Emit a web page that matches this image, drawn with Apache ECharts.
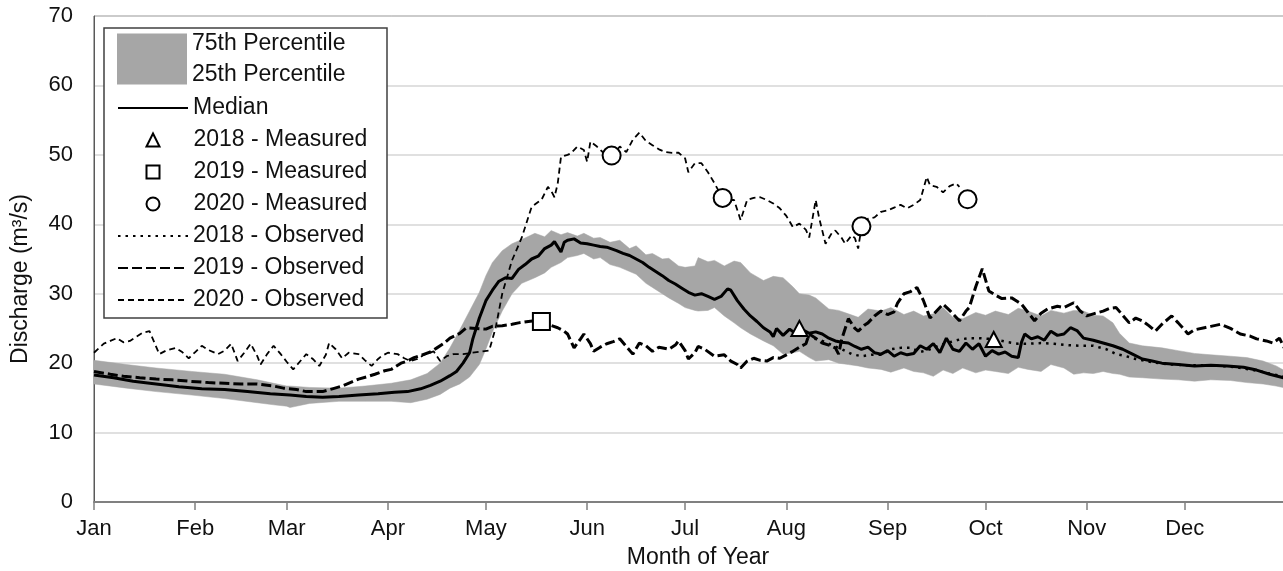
<!DOCTYPE html>
<html>
<head>
<meta charset="utf-8">
<script src="https://cdn.jsdelivr.net/npm/echarts@6/dist/echarts.min.js"></script>
<style>
html,body{margin:0;padding:0;background:#fff;}
#chart{width:1283px;height:571px;}
</style>
</head>
<body>
<div id="chart"></div>
<script>
// ---------- DATA (day of year, discharge m3/s) ----------
const months = ['Jan','Feb','Mar','Apr','May','Jun','Jul','Aug','Sep','Oct','Nov','Dec'];
const monthStartDays = [0,31,59,90,120,151,181,212,243,273,304,334];
const yTicks = [0,10,20,30,40,50,60,70];

const bandDays = [0,10,19,30,40,50,55,59,60,66,75,83,91,97,102,106,109,112,115,118,120,122,125,128,131,135,138,140,143,145,148,150,153,155,158,161,164,166,169,171,174,176,179,181,184,185,188,190,193,196,198,201,205,208,211,214,216,219,221,225,228,231,234,237,241,244,248,251,254,257,260,263,266,270,273,276,280,283,286,290,293,297,300,303,306,309,312,314,317,321,327,332,337,342,348,353,358,362,365];
const p75 = [20.4,19.8,19.3,18.8,18.4,17.6,17.1,16.7,16.7,16.5,16.4,16.7,17.1,17.6,18.5,20.0,22.2,24.8,27.5,30.2,32.6,34.5,36.2,37.2,37.8,38.7,38.2,39.1,38.5,38.8,38.3,38.7,38.0,38.1,37.4,37.7,36.5,36.9,35.6,35.8,35.0,35.1,34.0,33.8,34.0,35.2,34.6,34.8,34.0,34.7,34.5,33.0,31.9,32.5,32.3,31.0,30.0,29.8,29.4,27.8,27.6,27.1,26.6,27.8,27.5,28.0,27.0,27.5,26.8,27.1,28.0,26.6,26.4,27.3,26.9,27.5,27.0,27.9,27.5,26.8,27.6,27.2,27.6,27.5,26.9,26.8,25.8,24.3,22.9,22.5,22.2,21.8,21.4,21.2,21.0,20.8,20.3,19.6,18.8];
const p25 = [17.0,16.4,15.9,15.4,14.9,14.3,14.0,13.8,13.6,14.2,14.5,14.5,14.5,14.3,14.8,15.5,16.4,17.0,18.0,19.8,22.0,24.5,27.5,30.0,31.5,32.3,33.0,33.8,34.5,35.2,35.5,35.8,35.0,35.2,34.2,33.8,33.2,32.8,31.5,30.9,30.0,29.4,28.6,28.0,27.6,27.5,27.6,28.0,26.8,25.8,25.1,24.2,23.2,22.5,21.3,21.5,21.7,20.8,20.3,20.5,20.0,19.8,19.6,19.3,19.1,18.7,19.3,18.8,18.6,18.1,19.0,18.5,19.3,18.6,19.0,18.8,18.5,19.4,19.1,18.8,19.8,19.3,18.4,18.6,18.5,18.8,18.5,18.4,18.0,17.9,17.7,17.6,17.4,17.6,17.5,17.2,17.0,16.7,16.4];

const medianDays = [0,6,12,19,26,33,40,47,54,60,65,70,75,81,87,92,96,100,103,106,109,111,113,115,116,118,120,122,124,126,128,130,132,134,136,138,140,141,143,144,145,147,149,151,153,155,157,160,162,164,166,168,170,172,174,176,178,180,182,184,186,188,190,192,194,195,197,199,201,203,205,207,208,209,211,213,215,217,219,221,223,225,227,229,231,233,235,237,239,241,243,245,247,249,251,253,255,257,259,261,263,265,267,269,271,273,275,277,279,281,283,284,285,287,289,291,293,295,297,299,301,303,306,309,312,315,318,321,324,327,332,337,342,347,352,356,360,365];
const medianVals = [18.3,17.9,17.4,17.0,16.6,16.3,16.2,15.9,15.6,15.4,15.2,15.1,15.2,15.4,15.6,15.8,15.9,16.3,16.8,17.4,18.2,18.8,20.0,21.5,23.5,26.5,29.0,30.5,31.8,32.3,32.2,33.5,34.2,35.0,35.4,36.5,37.0,37.5,36.0,37.4,37.7,37.9,37.3,37.2,37.0,36.8,36.7,36.2,35.8,35.5,35.0,34.5,33.8,33.2,32.6,31.9,31.4,30.8,30.2,29.8,30.0,29.6,29.2,29.6,30.7,30.5,29.0,27.8,26.8,26.0,25.1,24.5,23.8,25.0,24.0,24.9,24.2,24.8,24.3,24.5,24.2,23.6,23.2,23.0,22.9,22.4,22.0,22.3,21.5,21.3,21.8,21.0,21.5,21.2,21.4,22.5,22.0,22.8,21.5,23.6,22.0,21.7,22.9,22.0,22.8,21.0,21.8,21.3,21.6,21.0,20.8,23.0,24.2,23.5,23.8,23.3,24.6,24.0,24.2,25.1,24.7,23.6,23.3,22.9,22.5,22.0,21.3,20.6,20.3,20.0,19.8,19.6,19.7,19.6,19.4,19.0,18.4,17.8];

const obs2018Days = [214,217,220,223,226,229,232,235,238,241,244,247,250,253,256,259,262,265,268,271,274,277,280,283,286,290,294,298,302,306,310,313,316,319,322,326,330,335,340,345,350,355,360,365];
const obs2018Vals = [24.4,24.0,23.6,23.2,22.6,22.0,21.3,21.0,21.2,21.2,22.0,22.2,22.2,21.6,22.0,22.6,23.0,23.4,23.6,23.6,23.5,23.3,23.0,22.8,22.8,22.9,22.8,22.6,22.5,22.5,22.0,21.3,21.0,20.6,20.3,20.0,19.8,19.7,19.7,19.6,19.4,19.0,18.5,18.0];

const obs2019Days = [0,5,9,14,19,24,29,35,40,45,50,55,58,62,65,70,73,76,79,81,84,86,89,91,94,96,98,100,103,105,107,109,112,114,117,120,122,125,128,130,133,135,137,139,142,144,145,147,149,150,152,153,155,157,159,161,163,165,167,169,171,173,176,178,179,181,182,184,185,187,190,193,195,197,198,200,202,204,206,208,210,212,214,216,218,219,221,223,225,227,228,229,231,233,234,236,237,239,241,243,245,246,248,250,252,254,256,258,260,262,265,267,268,270,272,274,276,278,281,283,284,286,288,290,292,295,297,300,302,304,306,309,311,313,315,317,319,321,323,325,327,330,332,335,337,340,342,345,348,351,354,356,359,361,363,365];
const obs2019Vals = [18.8,18.4,18.1,17.9,17.7,17.6,17.4,17.2,17.1,17.0,17.0,16.7,16.4,16.2,15.9,15.9,16.3,16.7,17.3,17.7,18.1,18.4,18.9,19.1,20.0,20.3,20.8,21.1,21.6,22.2,22.8,23.6,24.3,25.1,25.0,24.9,25.3,25.4,25.6,25.8,26.0,26.1,26.0,25.6,25.1,24.6,24.2,22.2,23.5,24.2,22.8,21.7,22.3,22.8,23.1,23.5,22.4,21.3,22.9,22.5,21.7,22.3,22.0,22.6,23.2,21.8,20.6,21.5,22.4,22.0,21.0,21.2,20.3,19.8,19.3,20.3,20.7,20.4,20.3,20.8,20.7,21.2,21.7,22.3,22.8,24.2,23.6,22.9,22.6,22.2,21.3,23.5,26.4,25.0,24.6,25.5,25.8,26.8,27.5,27.0,27.4,28.6,30.0,30.3,30.9,29.0,26.5,27.5,28.5,27.6,26.1,27.5,28.0,31.0,33.6,30.4,29.8,29.3,29.4,28.8,28.5,27.3,26.1,27.2,27.8,28.2,28.0,28.7,27.5,26.8,27.1,27.5,27.9,28.0,26.9,25.8,26.5,26.1,25.4,24.6,25.6,26.8,25.8,24.2,24.8,25.1,25.3,25.6,25.0,24.2,23.9,23.5,23.2,22.9,23.6,21.7];

const obs2020Days = [0,3,5,7,9,11,13,15,17,18,20,22,25,27,29,31,33,35,38,40,42,44,46,48,50,51,53,55,57,59,61,63,65,67,69,71,72,74,76,78,81,83,85,87,88,90,93,95,97,99,101,104,106,108,110,113,116,119,121,123,125,128,131,134,136,137,139,140,141,142,143,145,146,148,150,151,152,154,156,158,160,161,163,165,167,169,171,173,175,177,179,181,182,184,186,188,190,192,194,196,198,200,202,204,206,208,210,212,214,216,218,219,221,222,224,226,227,229,230,232,233,234,235,237,239,241,243,245,247,249,251,253,255,256,258,260,262,264,265];
const obs2020Vals = [21.5,22.8,23.2,23.6,23.0,23.2,23.8,24.4,24.6,23.5,21.3,21.8,22.2,21.6,20.7,21.6,22.5,21.9,21.3,21.8,22.8,20.3,21.5,22.8,21.0,19.8,21.3,22.5,21.4,20.2,19.1,20.2,21.3,20.6,19.6,21.2,22.9,22.0,20.7,21.5,21.3,20.4,19.6,20.6,21.0,21.5,21.3,20.7,20.3,20.6,21.2,21.7,20.3,21.0,21.3,21.3,21.5,21.7,21.8,25.1,30.0,34.8,38.1,42.5,43.2,43.5,45.4,44.8,43.9,45.9,49.7,50.0,50.2,51.2,50.7,49.0,51.9,51.2,50.3,50.0,50.6,51.2,50.4,52.2,53.2,52.0,51.4,50.8,50.4,50.3,50.3,49.5,47.5,48.8,48.8,47.5,45.9,44.2,43.5,43.5,40.6,43.5,43.8,43.9,43.5,43.0,42.3,41.2,39.6,40.1,39.2,38.1,43.5,41.0,37.2,38.8,39.1,38.0,37.2,38.4,38.0,36.5,39.6,40.8,41.0,41.8,42.0,42.4,42.8,42.3,42.8,43.5,46.8,45.6,45.4,44.6,45.5,45.9,45.4];

const meas2018Days = [216, 275.5];
const meas2018Vals = [25.0, 23.4];
const meas2019Days = [137];
const meas2019Vals = [26.0];
const meas2020Days = [158.5, 192.5, 235, 267.5];
const meas2020Vals = [49.9, 43.8, 39.7, 43.6];

// ---------- CHART ----------
const pairs = (xs, ys) => xs.map((x, i) => [x, ys[i]]);
const FONT = '"Liberation Sans", Arial, sans-serif';
const TXT = '#111';
const BAND = '#a6a6a6';
const noMark = {opacity: 0, color: 'transparent', borderColor: 'transparent', borderWidth: 0};
const legendText = {fontSize: 23, lineHeight: 24, color: TXT, fontFamily: FONT};

const chart = echarts.init(document.getElementById('chart'), null, {renderer: 'canvas'});
chart.setOption({
  animation: false,
  backgroundColor: '#fff',
  textStyle: {fontFamily: FONT, color: TXT},
  grid: {left: 94, top: 16, width: 1192, height: 486, show: true, borderColor: '#595959', borderWidth: 1, containLabel: false, outerBoundsMode: 'none'},
  xAxis: {
    type: 'value', min: 0, max: 365,
    name: 'Month of Year', nameLocation: 'middle', nameGap: 44,
    nameTextStyle: {fontSize: 23, color: TXT, fontFamily: FONT, padding: [0, 0, 0, 16]},
    axisLine: {show: true, lineStyle: {color: '#808080', width: 2}},
    axisTick: {show: true, customValues: monthStartDays, length: 8, lineStyle: {color: '#808080', width: 1.5}},
    axisLabel: {customValues: monthStartDays, formatter: v => months[monthStartDays.indexOf(v)] || '', fontSize: 22, color: TXT, fontFamily: FONT, margin: 16},
    splitLine: {show: false}
  },
  yAxis: {
    type: 'value', min: 0, max: 70, interval: 10,
    name: 'Discharge (m³/s)', nameLocation: 'middle', nameGap: 62,
    nameTextStyle: {fontSize: 23, color: TXT, fontFamily: FONT, padding: [0, 40, 0, 0]},
    axisLine: {show: true, lineStyle: {color: '#595959', width: 1}},
    axisTick: {show: false},
    axisLabel: {fontSize: 22, color: TXT, fontFamily: FONT, margin: 21, customValues: yTicks},
    splitLine: {show: true, lineStyle: {color: '#d6d6d6', width: 1.5}}
  },
  graphic: [{
    type: 'rect', z: 3, silent: true,
    shape: {x: 104, y: 28, width: 283, height: 290},
    style: {fill: '#fff', stroke: '#404040', lineWidth: 1.5}
  }],
  legend: [{
    orient: 'vertical', left: 117, top: 28, padding: 0, itemGap: 0,
    itemWidth: 70, itemHeight: 51, selectedMode: false,
    data: [{name: '75th Percentile', icon: 'rect', itemStyle: {color: BAND, borderWidth: 0}}],
    formatter: () => '75th Percentile\n25th Percentile',
    textStyle: {fontSize: 23, lineHeight: 31, color: TXT, fontFamily: FONT}
  }, {
    orient: 'vertical', left: 117, top: 96, padding: 0, itemGap: 8,
    itemWidth: 70, itemHeight: 13, selectedMode: false,
    data: [{name: 'Median', itemStyle: noMark}],
    textStyle: legendText
  }, {
    orient: 'vertical', left: 145.5, top: 128, padding: 0, itemGap: 8,
    itemWidth: 13, itemHeight: 13, selectedMode: false,
    data: ['2018 - Measured', '2019 - Measured', '2020 - Measured'],
    textStyle: Object.assign({}, legendText, {padding: [0, 0, 0, 29]})
  }, {
    orient: 'vertical', left: 117, top: 224, padding: 0, itemGap: 8,
    itemWidth: 70, itemHeight: 13, selectedMode: false,
    data: [{name: '2018 - Observed', itemStyle: noMark}, {name: '2019 - Observed', itemStyle: noMark}, {name: '2020 - Observed', itemStyle: noMark}],
    textStyle: legendText
  }],
  series: [
    {name: '75th Percentile', type: 'custom', silent: true, z: 1,
     data: pairs(bandDays, p75), encode: {x: 0, y: 1},
     itemStyle: {color: BAND},
     renderItem: (params, api) => {
       if (params.dataIndex !== 0) return null;
       const upper = bandDays.map((d, i) => api.coord([d, p75[i]]));
       const lower = bandDays.map((d, i) => api.coord([d, p25[i]])).reverse();
       return {type: 'polygon', shape: {points: upper.concat(lower)}, style: {fill: BAND, stroke: BAND, lineWidth: 0.5}};
     }},
    {name: 'Median', type: 'line', data: pairs(medianDays, medianVals), symbol: 'none',
     lineStyle: {color: '#000', width: 3}, itemStyle: {color: '#000'}, z: 3},
    {name: '2018 - Observed', type: 'line', data: pairs(obs2018Days, obs2018Vals), symbol: 'none',
     lineStyle: {color: '#000', width: 2.5, type: [2.5, 5]}, itemStyle: {color: '#000'}, z: 3},
    {name: '2019 - Observed', type: 'line', data: pairs(obs2019Days, obs2019Vals), symbol: 'none',
     lineStyle: {color: '#000', width: 3, type: [10, 4]}, itemStyle: {color: '#000'}, z: 3},
    {name: '2020 - Observed', type: 'line', data: pairs(obs2020Days, obs2020Vals), symbol: 'none',
     lineStyle: {color: '#000', width: 1.8, type: [6, 4]}, itemStyle: {color: '#000'}, z: 3},
    {name: '2018 - Measured', type: 'scatter', data: pairs(meas2018Days, meas2018Vals), symbol: 'triangle', symbolSize: [16, 15],
     itemStyle: {color: '#fff', borderColor: '#000', borderWidth: 2, opacity: 1}, z: 5},
    {name: '2019 - Measured', type: 'scatter', data: pairs(meas2019Days, meas2019Vals), symbol: 'rect', symbolSize: 17,
     itemStyle: {color: '#fff', borderColor: '#000', borderWidth: 2, opacity: 1}, z: 5},
    {name: '2020 - Measured', type: 'scatter', data: pairs(meas2020Days, meas2020Vals), symbol: 'circle', symbolSize: 18,
     itemStyle: {color: '#fff', borderColor: '#000', borderWidth: 2, opacity: 1}, z: 5}
  ]
});
</script>
</body>
</html>
